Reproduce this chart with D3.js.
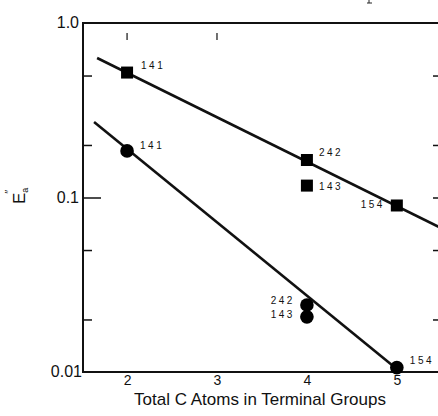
<!DOCTYPE html>
<html>
<head>
<meta charset="utf-8">
<script src="https://cdn.jsdelivr.net/npm/d3@7/dist/d3.min.js"></script>
<style>
  html, body { margin: 0; padding: 0; background: #fff; }
  svg { display: block; }
  text { font-family: "Liberation Sans", Arial, sans-serif; fill: #111; }
</style>
</head>
<body>
<svg id="chart" width="438" height="416"></svg>
<script>
// ---- data ----
const xTickValues = [2, 3, 4, 5];
const yMajorTicks = [1.0, 0.1, 0.01];
const yMajorLabels = ["1.0", "0.1", "0.01"];
const yMinorTicks = [0.5, 0.2, 0.05, 0.02];
const topTicks = [2, 3];

// square series (upper)
const squareX = [2, 4, 4, 5];
const squareY = [0.52, 0.164, 0.117, 0.09];
const squareLabels = ["141", "242", "143", "154"];

// circle series (lower)
const circleX = [2, 4, 4, 5];
const circleY = [0.185, 0.0242, 0.0207, 0.0106];
const circleLabels = ["141", "242", "143", "154"];

// fitted lines (endpoints)
const upperLineX = [1.667, 5.48];
const upperLineY = [0.63, 0.0673];
const lowerLineX = [1.633, 5.0];
const lowerLineY = [0.271, 0.0104];

const xLabel = "Total C Atoms in Terminal Groups";

// ---- layout ----
const svg = d3.select("#chart");
const mLeft = 83, mRight = 440, mTop = 23, mBottom = 372;
const x = d3.scaleLinear().domain([1.51, 5.48]).range([mLeft, mRight]);
const y = d3.scaleLog().domain([0.01, 1]).range([mBottom, mTop]);

// frame
const frame = svg.append("g").attr("stroke", "#111").attr("stroke-width", 2).attr("fill", "none");
frame.append("line").attr("x1", mLeft).attr("x2", mRight).attr("y1", mTop).attr("y2", mTop);
frame.append("line").attr("x1", mLeft).attr("x2", mRight).attr("y1", mBottom).attr("y2", mBottom);
frame.append("line").attr("x1", mLeft).attr("x2", mLeft).attr("y1", mTop - 1).attr("y2", mBottom + 1);
frame.append("line").attr("x1", mRight).attr("x2", mRight).attr("y1", mTop).attr("y2", mBottom);

// left axis ticks via d3 axis (inward)
const yAxisMajor = d3.axisRight(y).tickValues([0.1]).tickSize(18).tickFormat("");
const gYL = svg.append("g").attr("transform", `translate(${mLeft},0)`).call(yAxisMajor);
const yAxisMinor = d3.axisRight(y).tickValues(yMinorTicks).tickSize(9).tickFormat("");
const gYL2 = svg.append("g").attr("transform", `translate(${mLeft},0)`).call(yAxisMinor);
const yAxisRight = d3.axisLeft(y).tickValues(yMinorTicks.concat([0.1])).tickSize(6).tickFormat("");
const gYR = svg.append("g").attr("transform", `translate(${mRight - 1},0)`).call(yAxisRight);
[gYL, gYL2, gYR].forEach(g => {
  g.select(".domain").remove();
  g.selectAll(".tick line").attr("stroke", "#111").attr("stroke-width", 1.5);
});

// y tick labels
svg.append("g").selectAll("text").data(yMajorTicks).join("text")
  .attr("x", (d, i) => i === 2 ? 82 : 79)
  .attr("y", d => y(d) + 5)
  .attr("text-anchor", "end")
  .attr("font-size", 16)
  .text((d, i) => yMajorLabels[i]);

// top ticks (inward, short, detached)
svg.append("g").selectAll("line").data(topTicks).join("line")
  .attr("x1", d => x(d)).attr("x2", d => x(d))
  .attr("y1", mTop + 10).attr("y2", mTop + 17)
  .attr("stroke", "#111").attr("stroke-width", 1.2);

// x axis labels via d3 axis
const xAxis = d3.axisBottom(x).tickValues(xTickValues).tickSize(0).tickPadding(3).tickFormat(d3.format("d"));
const gX = svg.append("g").attr("transform", `translate(0,${mBottom})`).call(xAxis);
gX.select(".domain").remove();
gX.selectAll(".tick text").attr("font-size", 14).attr("fill", "#111")
  .attr("font-family", "Liberation Sans, Arial, sans-serif");

// x axis title
svg.append("text").attr("x", 260).attr("y", 405).attr("text-anchor", "middle")
  .attr("font-size", 17).text(xLabel);

// y axis title E_a''
const yt = svg.append("text").attr("transform", "translate(25,204) rotate(-90)")
  .attr("font-size", 17);
yt.append("tspan").text("E");
yt.append("tspan").attr("font-size", 9).attr("dy", 3).text("a");
yt.append("tspan").attr("font-size", 11).attr("dx", -6).attr("dy", -15).text("\u2033");

// fitted lines
const line = d3.line().x(d => x(d[0])).y(d => y(d[1]));
svg.append("path").datum(upperLineX.map((v, i) => [v, upperLineY[i]]))
  .attr("d", line).attr("stroke", "#111").attr("stroke-width", 2.6).attr("fill", "none");
svg.append("path").datum(lowerLineX.map((v, i) => [v, lowerLineY[i]]))
  .attr("d", line).attr("stroke", "#111").attr("stroke-width", 2.6).attr("fill", "none");

// squares
const sq = 12;
svg.append("g").selectAll("rect").data(squareX.map((v, i) => [v, squareY[i]])).join("rect")
  .attr("x", d => x(d[0]) - sq / 2).attr("y", d => y(d[1]) - sq / 2)
  .attr("width", sq).attr("height", sq).attr("fill", "#000");

// circles
svg.append("g").selectAll("circle").data(circleX.map((v, i) => [v, circleY[i]])).join("circle")
  .attr("cx", d => x(d[0])).attr("cy", d => y(d[1])).attr("r", 6.8).attr("fill", "#000");

// point labels
const sqLabelPos = [["start", 14, -4], ["start", 12, -4], ["start", 12, 4], ["end", -12, 3]];
const ciLabelPos = [["start", 13, -2], ["end", -12, -1], ["end", -12, 1], ["start", 13, -4]];
const lbl = (xs, ys, labels, pos) => svg.append("g").selectAll("text")
  .data(xs.map((v, i) => ({ x: v, y: ys[i], t: labels[i], p: pos[i] }))).join("text")
  .attr("x", d => x(d.x) + d.p[1])
  .attr("y", d => y(d.y) + d.p[2])
  .attr("text-anchor", d => d.p[0])
  .attr("font-size", 10).attr("letter-spacing", 2.5)
  .text(d => d.t);
lbl(squareX, squareY, squareLabels, sqLabelPos);
lbl(circleX, circleY, circleLabels, ciLabelPos);

// descender stroke of the cut-off caption above the chart
svg.append("path").attr("d", "M369,0 L369,3 M367,3 L372,3")
  .attr("stroke", "#222").attr("stroke-width", 1).attr("fill", "none");
</script>
</body>
</html>
